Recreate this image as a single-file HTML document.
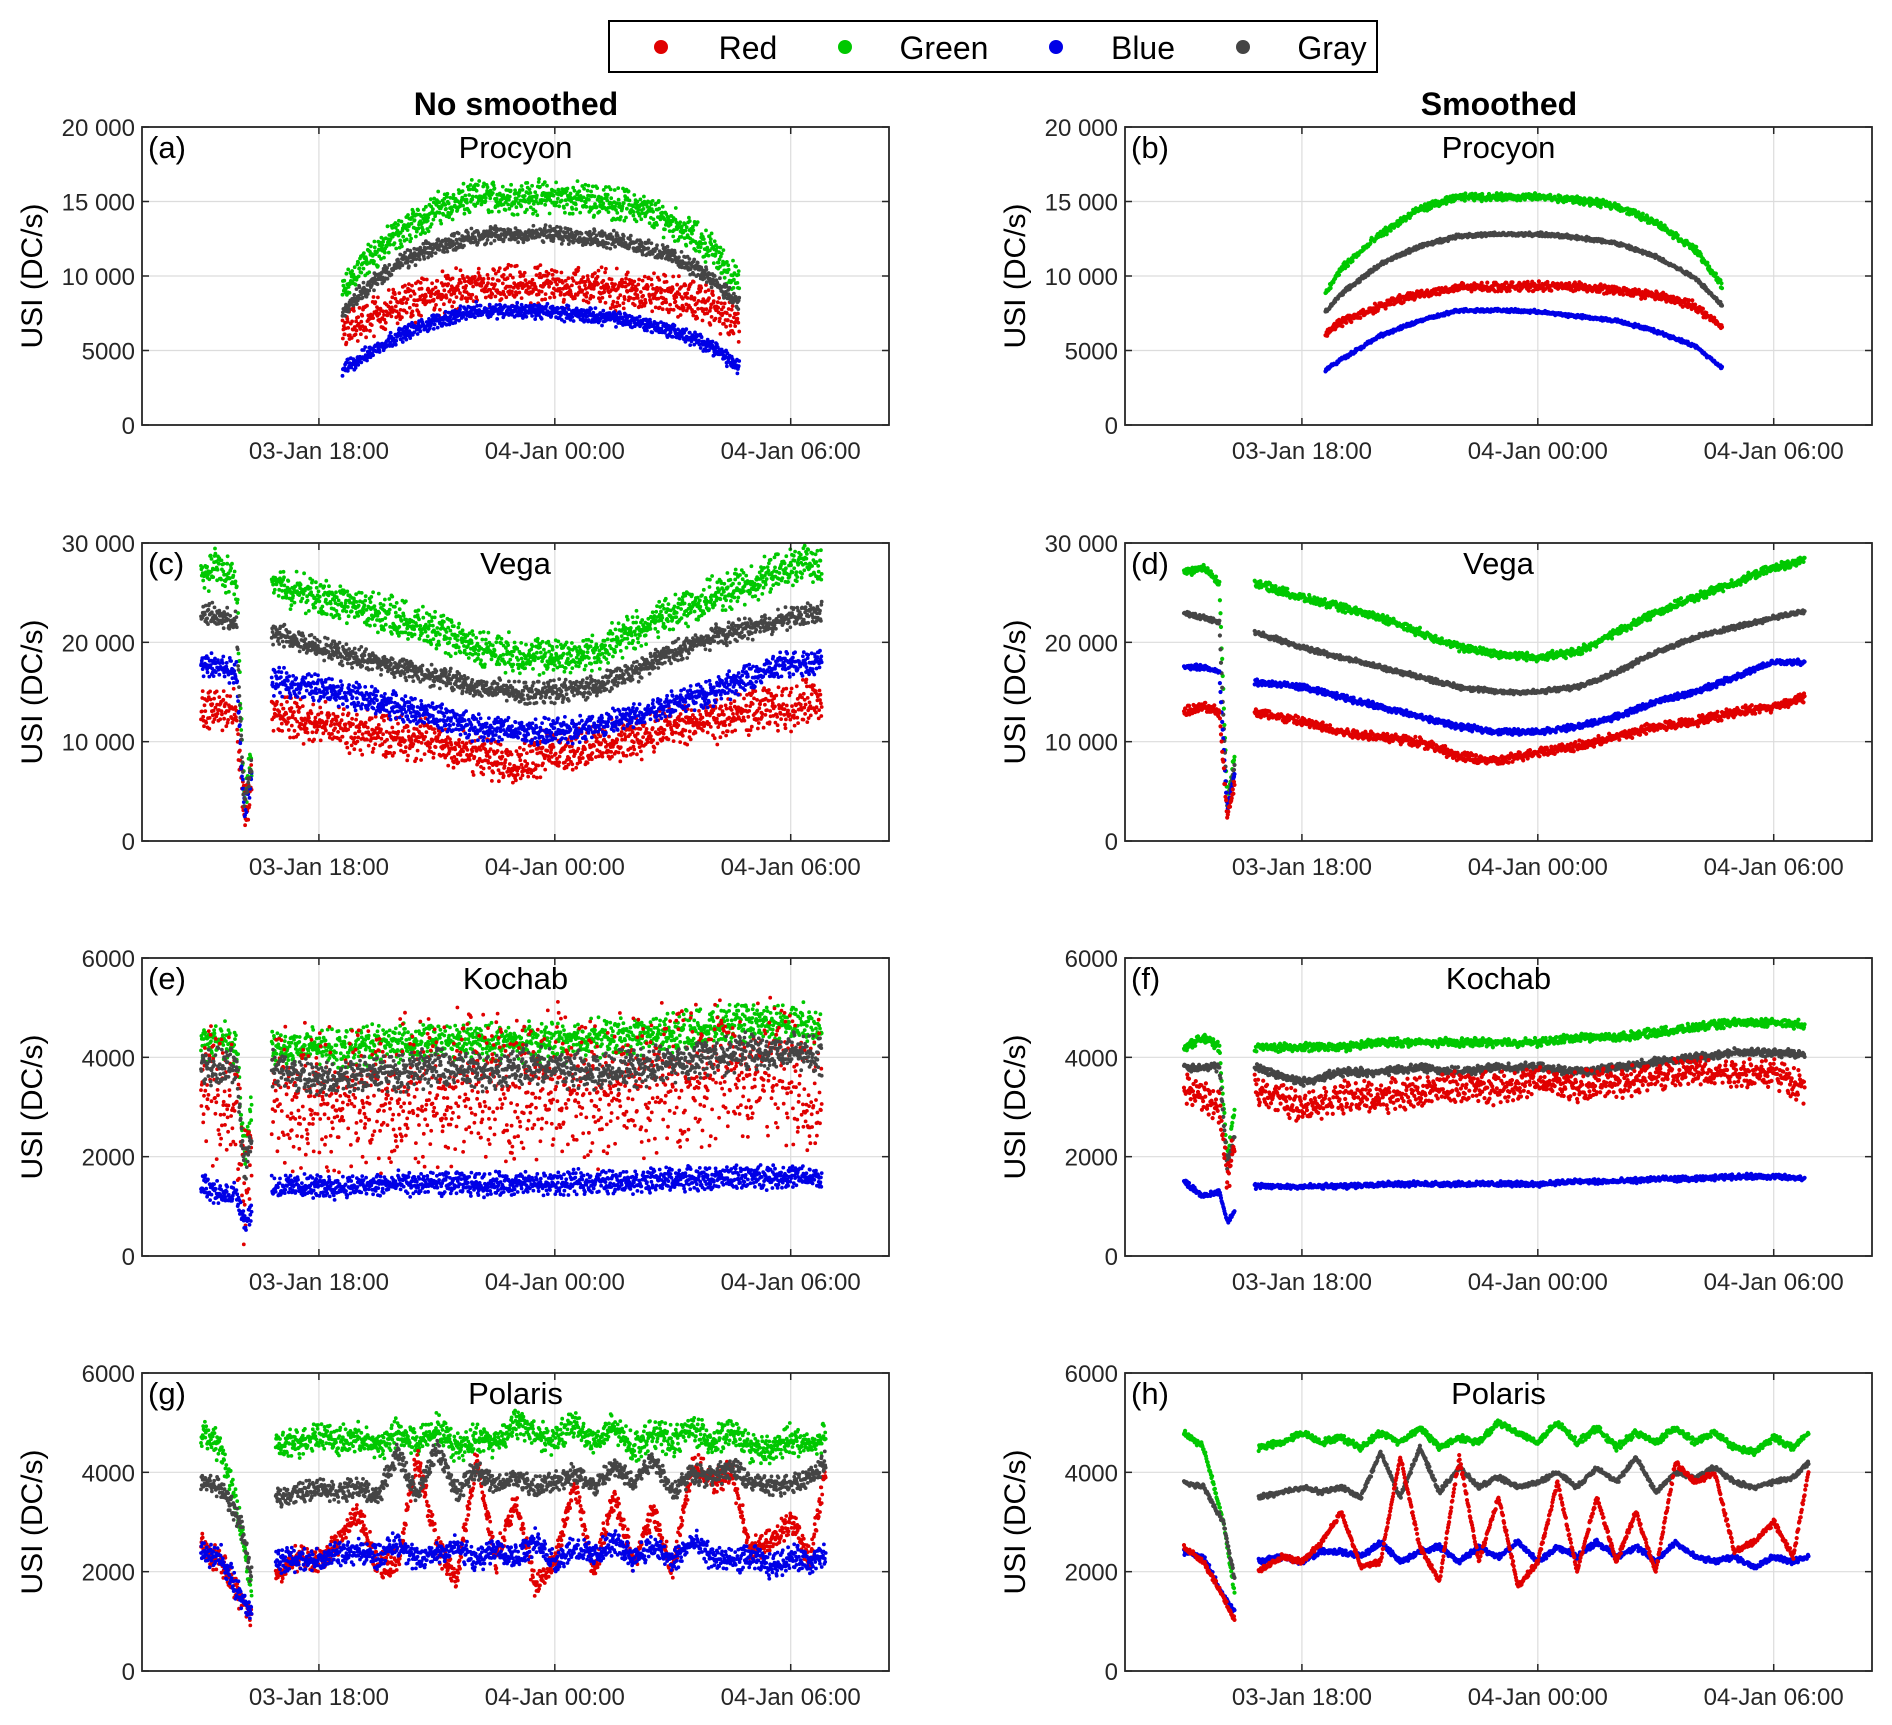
<!DOCTYPE html>
<html><head><meta charset="utf-8"><style>
html,body{margin:0;padding:0;background:#fff;}
svg{display:block;font-family:"Liberation Sans",Arial,sans-serif;}
</style></head><body>
<svg id="fig" width="1892" height="1725" viewBox="0 0 1892 1725" xmlns="http://www.w3.org/2000/svg">
<g>
<rect x="609" y="21" width="768" height="51" fill="#fff" stroke="#000" stroke-width="2"/>
<circle cx="661" cy="47" r="7" fill="#e00000"/>
<text x="748" y="59" font-size="32" text-anchor="middle">Red</text>
<circle cx="845" cy="47" r="7" fill="#00c800"/>
<text x="944" y="59" font-size="32" text-anchor="middle">Green</text>
<circle cx="1056" cy="47" r="7" fill="#0000e6"/>
<text x="1143" y="59" font-size="32" text-anchor="middle">Blue</text>
<circle cx="1243" cy="47" r="7" fill="#444"/>
<text x="1332" y="59" font-size="32" text-anchor="middle">Gray</text>
</g>
<text x="516" y="115" font-size="32" font-weight="bold" text-anchor="middle">No smoothed</text>
<text x="1499" y="115" font-size="32" font-weight="bold" text-anchor="middle">Smoothed</text>
</svg>
<script>
// ---- data (hours from 03-Jan 00:00) ----
const xTickHours = [18, 24, 30];
const xTickLabels = ["03-Jan 18:00", "04-Jan 00:00", "04-Jan 06:00"];
const seriesNames = ["green", "red", "blue", "gray"];

const procyonTimes = [18.6,19,20,21,22,23,24,25,26,27,28,28.7];
const procyonGreen = [8800,10500,12800,14500,15300,15300,15300,15100,14700,13600,11800,9300];
const procyonGray  = [7600,8800,10800,12000,12700,12800,12800,12600,12200,11300,9900,8000];
const procyonRed   = [6200,6900,8000,8800,9200,9300,9300,9300,9000,8700,8000,6500];
const procyonBlue  = [3700,4400,6000,7000,7700,7700,7600,7300,7000,6300,5300,3800];
const procyonTicks = [0,5000,10000,15000,20000];
const procyonTickLabels = ["0","5000","10 000","15 000","20 000"];

const vegaTimes = [15.0,15.5,15.9,16.1,16.3,16.5,16.8,18,19,20,21,22,23,24,25,26,27,28,29,30,30.8];
const vegaGreen = [27000,27500,26000,4000,9000,null,26000,24500,23500,22500,21000,19500,18800,18500,19000,21000,23000,24500,26000,27500,28200];
const vegaGray  = [23000,22500,22000,3500,8000,null,21000,19500,18500,17500,16500,15500,15000,15000,15500,17000,19000,20500,21500,22500,23100];
const vegaBlue  = [17500,17500,17000,3000,7000,null,16000,15500,14500,13500,12500,11500,11000,11000,11500,12500,14000,15000,16500,18000,18000];
const vegaRed   = [13000,13500,13000,2500,6000,null,13000,12000,11000,10500,10000,8500,8000,9000,9500,10500,11500,12000,13000,13500,14500];
const vegaTicks = [0,10000,20000,30000];
const vegaTickLabels = ["0","10 000","20 000","30 000"];

const kochabTimes = vegaTimes.slice();
const kochabGreen = [4200,4400,4200,2000,3000,null,4200,4200,4200,4300,4300,4300,4300,4300,4400,4400,4500,4600,4700,4700,4650];
const kochabGray  = [3800,3800,3800,1800,2500,null,3800,3500,3700,3700,3800,3700,3800,3800,3700,3800,3900,4000,4100,4100,4050];
const kochabRed   = [3400,3200,3000,1500,2300,null,3400,3000,3200,3200,3300,3400,3400,3500,3400,3500,3600,3700,3700,3700,3400];
const kochabBlue  = [1500,1200,1300,700,900,null,1400,1400,1400,1450,1450,1450,1450,1450,1500,1500,1550,1550,1600,1600,1550];
const smallTicks = [0,2000,4000,6000];
const smallTickLabels = ["0","2000","4000","6000"];

const polarisTimes = [15.0,15.5,16.0,16.3,16.6,16.9,17.5,18,18.5,19,19.5,20,20.5,21,21.5,22,22.5,23,23.5,24,24.5,25,25.5,26,26.5,27,27.5,28,28.5,29,29.5,30,30.5,30.9];
const polarisGreen = [4800,4500,3000,1500,null,4500,4600,4800,4600,4700,4500,4800,4600,4900,4500,4700,4600,5000,4800,4600,5000,4600,4900,4500,4800,4600,4900,4600,4800,4500,4400,4700,4500,4800];
const polarisGray  = [3800,3700,3000,1800,null,3500,3600,3700,3600,3700,3500,4400,3500,4500,3600,4100,3700,3900,3700,3800,4000,3700,4100,3800,4300,3600,4000,3900,4100,3800,3700,3800,3900,4200];
const polarisRed   = [2500,2200,1500,1000,null,2000,2300,2200,2600,3200,2100,2200,4300,2500,1800,4300,2200,3500,1700,2200,3800,2000,3500,2200,3200,2000,4200,3800,4000,2400,2600,3000,2300,4100];
const polarisBlue  = [2400,2300,1500,1200,null,2200,2300,2200,2400,2400,2300,2600,2200,2400,2500,2200,2500,2300,2600,2200,2500,2300,2600,2300,2500,2200,2600,2300,2200,2300,2100,2300,2200,2300];

const colors = {green:"#00c800", red:"#e00000", blue:"#0000e6", gray:"#454545"};

const rows = [
 {star:"Procyon", letters:["(a)","(b)"], top:127, ymax:20000, ticks:procyonTicks, tl:procyonTickLabels, t:procyonTimes,
  s:{green:procyonGreen,red:procyonRed,blue:procyonBlue,gray:procyonGray}, sp:{green:1300,red:1600,blue:600,gray:700}},
 {star:"Vega", letters:["(c)","(d)"], top:543, ymax:30000, ticks:vegaTicks, tl:vegaTickLabels, t:vegaTimes,
  s:{green:vegaGreen,red:vegaRed,blue:vegaBlue,gray:vegaGray}, sp:{green:2200,red:2600,blue:1600,gray:1300}},
 {star:"Kochab", letters:["(e)","(f)"], top:958, ymax:6000, ticks:smallTicks, tl:smallTickLabels, t:kochabTimes,
  s:{green:kochabGreen,red:kochabRed,blue:kochabBlue,gray:kochabGray}, sp:{green:450,red:1700,blue:280,gray:450}},
 {star:"Polaris", letters:["(g)","(h)"], top:1373, ymax:6000, ticks:smallTicks, tl:smallTickLabels, t:polarisTimes,
  s:{green:polarisGreen,red:polarisRed,blue:polarisBlue,gray:polarisGray}, sp:{green:350,red:300,blue:300,gray:250}}
];

const NS = "http://www.w3.org/2000/svg";
const svg = document.getElementById("fig");
const W = 747, H = 298, T0 = 13.5, T1 = 32.5;
let seed = 12345;
function rnd(){ seed = (seed*1103515245 + 12345) % 2147483648; return seed/2147483648; }
function mk(tag, attrs, parent){ const e = document.createElementNS(NS, tag); for (const k in attrs) e.setAttribute(k, attrs[k]); parent.appendChild(e); return e; }

rows.forEach((row, ri) => {
  [0,1].forEach(col => {
    const x0 = col === 0 ? 142 : 1125, y0 = row.top;
    const xs = h => x0 + (h - T0) / (T1 - T0) * W;
    const ys = v => y0 + H - v / row.ymax * H;
    const g = mk("g", {}, svg);
    
    
    xTickHours.forEach(h => mk("line", {x1:xs(h), x2:xs(h), y1:y0, y2:y0+H, stroke:"#dcdcdc", "stroke-width":1.2}, g));
    row.ticks.forEach(v => mk("line", {x1:x0, x2:x0+W, y1:ys(v), y2:ys(v), stroke:"#dcdcdc", "stroke-width":1.2}, g));
    const pts = mk("g", {}, g);
    
    
    const order = col === 0 ? ["green","red","blue","gray"] : ["green","gray","blue","red"];
    order.forEach(name => {
      const vals = row.s[name], sp = row.sp[name] * (col === 0 ? 1 : 0.22), c = colors[name];
      const r = col === 0 ? 1.9 : 2.1;
      let d = "";
      for (let i = 0; i < row.t.length - 1; i++) {
        if (vals[i] === null || vals[i+1] === null) continue;
        const dt = row.t[i+1] - row.t[i];
        const n = Math.max(4, Math.round(dt * (col === 0 ? 90 : 70)));
        for (let k = 0; k < n; k++) {
          const f = k / n;
          const t = row.t[i] + f * dt;
          let v = vals[i] + f * (vals[i+1] - vals[i]);
          v += (rnd() + rnd() - 1) * sp;
          if (v < 0) v = 0;
          const px = xs(t), py = ys(v);
          d += "M" + (px - r).toFixed(1) + " " + py.toFixed(1) + "a" + r + " " + r + " 0 1 0 " + (2*r) + " 0a" + r + " " + r + " 0 1 0 " + (-2*r) + " 0";
        }
      }
      const p = mk("path", {d:d, fill:c}, pts);
      
      
    });
    const fr = mk("rect", {x:x0, y:y0, width:W, height:H, fill:"none", stroke:"#262626", "stroke-width":1.8}, g);
    
    
    xTickHours.forEach((h, i) => {
      mk("line", {x1:xs(h), x2:xs(h), y1:y0+H, y2:y0+H-7, stroke:"#262626", "stroke-width":1.5}, g);
      mk("line", {x1:xs(h), x2:xs(h), y1:y0, y2:y0+7, stroke:"#262626", "stroke-width":1.5}, g);
      const tx = mk("text", {x:xs(h), y:y0+H+34, "font-size":24, "text-anchor":"middle", fill:"#262626"}, g);
      tx.textContent = xTickLabels[i];
      
      
    });
    row.ticks.forEach((v, i) => {
      mk("line", {x1:x0, x2:x0+7, y1:ys(v), y2:ys(v), stroke:"#262626", "stroke-width":1.5}, g);
      mk("line", {x1:x0+W, x2:x0+W-7, y1:ys(v), y2:ys(v), stroke:"#262626", "stroke-width":1.5}, g);
      const ty = mk("text", {x:x0-7, y:ys(v)+9, "font-size":24, "text-anchor":"end", fill:"#262626"}, g);
      ty.textContent = row.tl[i];
      
      
    });
    const yl = mk("text", {x:0, y:0, "font-size":30, "text-anchor":"middle", transform:"translate(" + (x0-100) + "," + (y0+H/2) + ") rotate(-90)"}, g);
    yl.textContent = "USI (DC/s)";
    
    
    const lt = mk("text", {x:x0+6, y:y0+31, "font-size":31}, g);
    lt.textContent = row.letters[col];
    
    
    const st = mk("text", {x:x0+W/2, y:y0+31, "font-size":31, "text-anchor":"middle"}, g);
    st.textContent = row.star;
    
    
  });
});
</script>
</body></html>
